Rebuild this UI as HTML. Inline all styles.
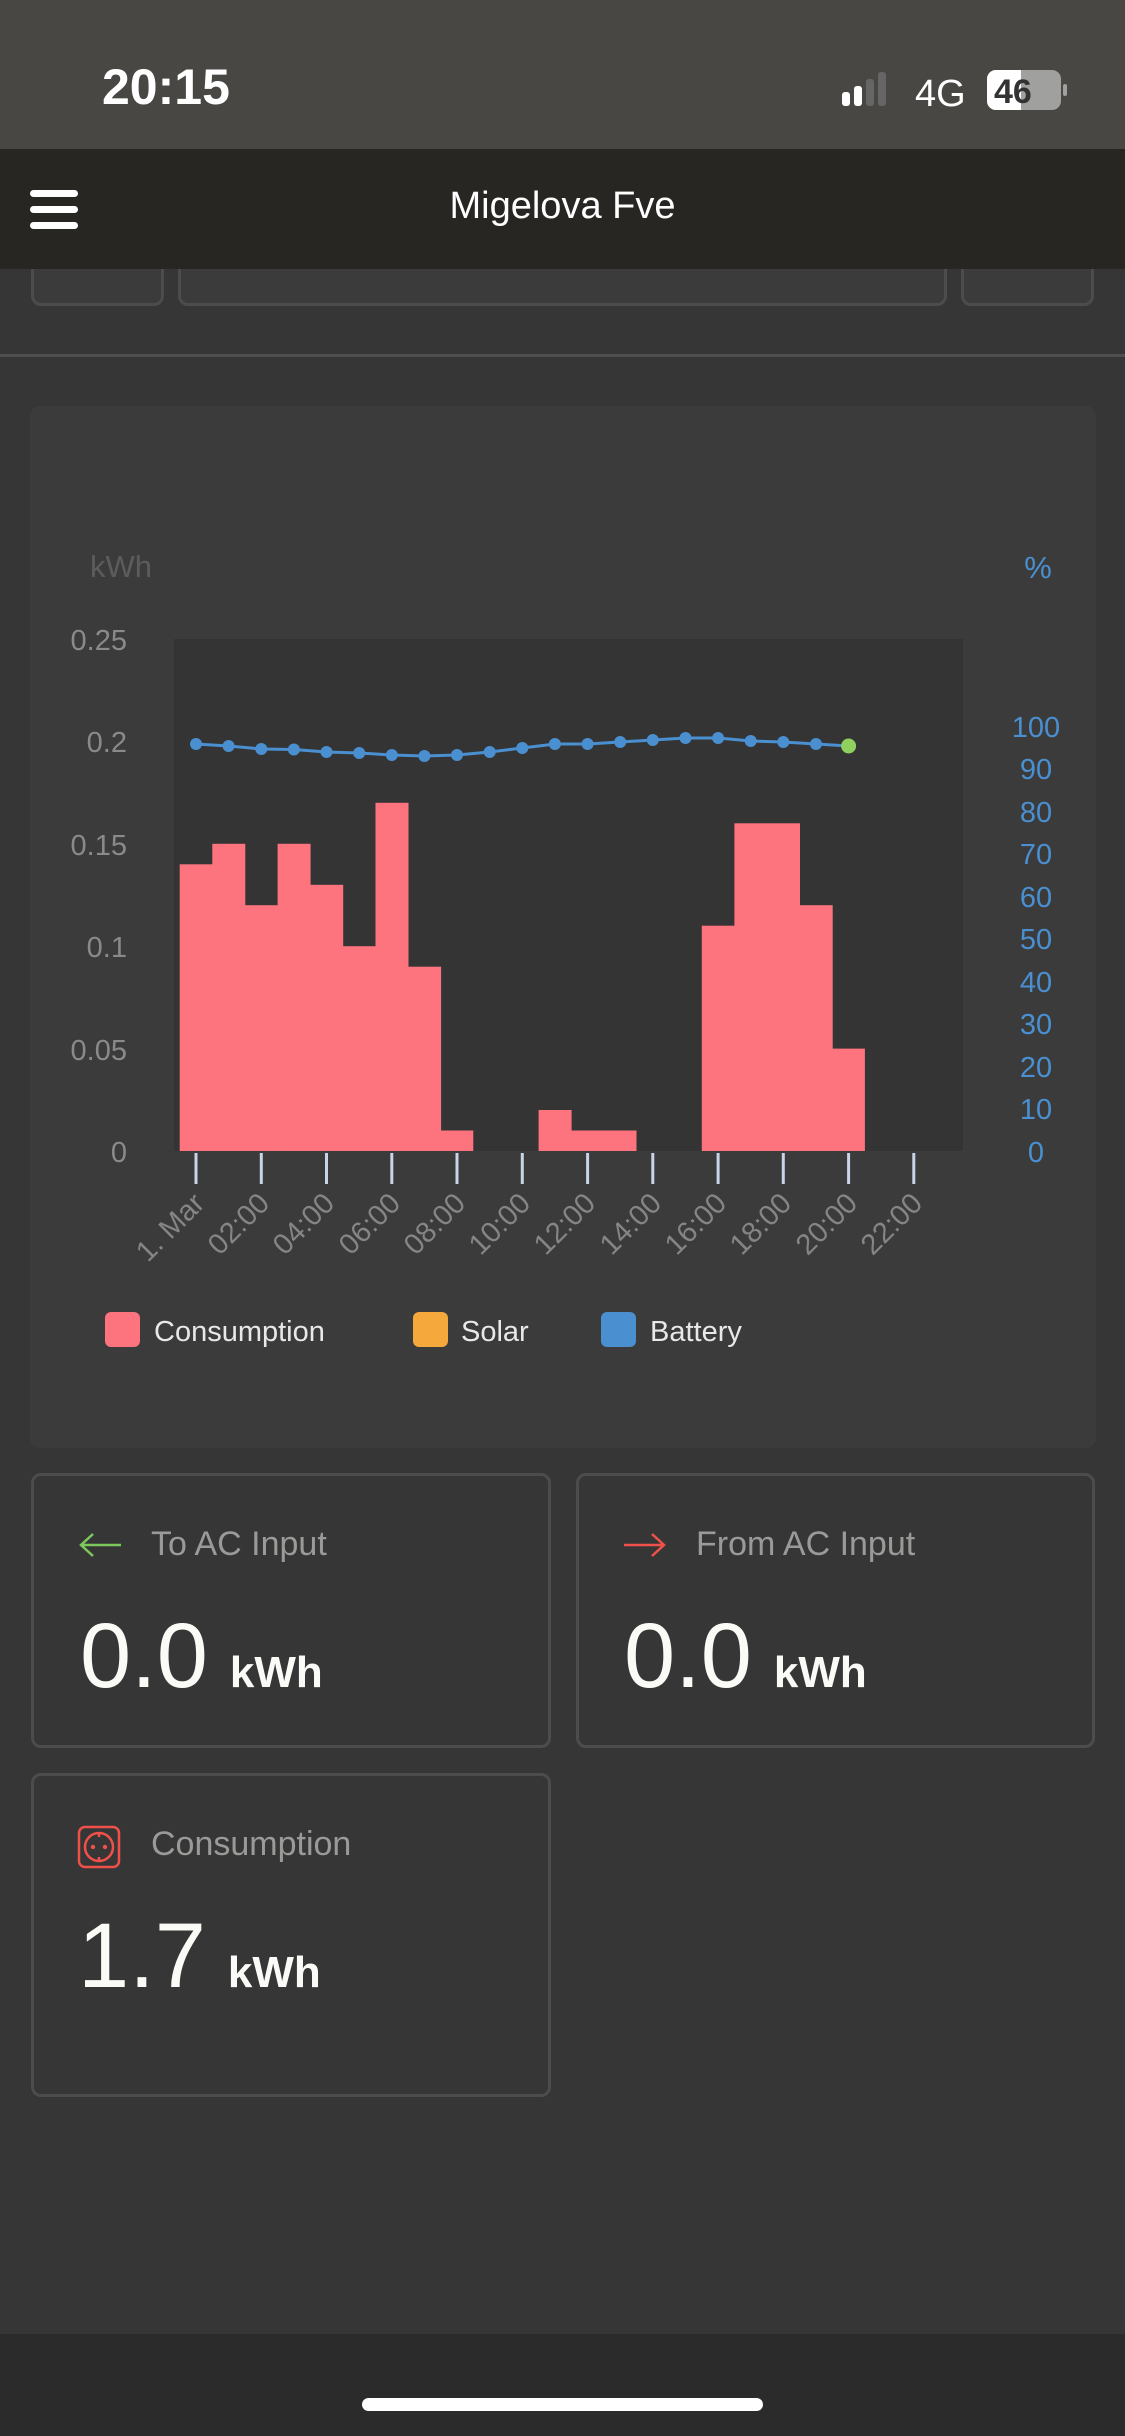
<!DOCTYPE html>
<html><head><meta charset="utf-8"><style>
body{margin:0;width:1125px;height:2436px;background:#363636;font-family:"Liberation Sans",sans-serif;overflow:hidden;position:relative}
.abs{position:absolute}
.card{position:absolute;border:3px solid #4c4c4a;border-radius:10px;box-sizing:border-box;background:#363636}
.ttl{position:absolute;color:#9a9a98;font-size:34px}
.big{position:absolute;color:#fafaf6;font-size:92px;line-height:1}
.big span{font-size:44px;font-weight:bold;margin-left:22px}
</style></head><body>
<div class="abs" style="left:0;top:0;width:1125px;height:149px;background:#484743"></div>
<div class="abs" style="left:102px;top:58px;color:#fff;font-size:50px;font-weight:bold">20:15</div>
<svg class="abs" style="left:830px;top:70px" width="250" height="50">
<rect x="12" y="22" width="8" height="14" rx="3" fill="#fff"/><rect x="24" y="16" width="8" height="20" rx="3" fill="#fff"/>
<rect x="36" y="9" width="8" height="27" rx="3" fill="#666"/><rect x="48" y="2" width="8" height="34" rx="3" fill="#666"/>
<text x="85" y="36" fill="#fff" font-size="38" font-family="Liberation Sans">4G</text>
<rect x="157" y="0" width="74" height="40" rx="9" fill="#a0a09e"/><path d="M166 0h25v40h-25a9 9 0 0 1-9-9v-22a9 9 0 0 1 9-9z" fill="#fff"/>
<text x="164" y="33" fill="#333" font-size="34" font-weight="bold" font-family="Liberation Sans">46</text>
<rect x="233" y="14" width="4" height="12" rx="2" fill="#a0a09e"/></svg>
<div class="abs" style="left:0;top:149px;width:1125px;height:120px;background:#272623"></div>
<div class="abs" style="left:30px;top:190px;width:48px;height:7px;background:#fff;border-radius:4px;box-shadow:0 16px 0 #fff,0 32px 0 #fff"></div>
<div class="abs" style="left:0;top:185px;width:1125px;text-align:center;color:#fff;font-size:38px">Migelova Fve</div>
<div class="card" style="left:31px;top:255px;width:133px;height:51px;background:#3b3b3b"></div>
<div class="card" style="left:178px;top:255px;width:769px;height:51px;background:#3b3b3b"></div>
<div class="card" style="left:961px;top:255px;width:133px;height:51px;background:#3b3b3b"></div>
<div class="abs" style="left:0;top:149px;width:1125px;height:120px;background:#272623;z-index:2"></div>
<div class="abs" style="left:30px;top:190px;width:48px;height:7px;background:#fff;border-radius:4px;box-shadow:0 16px 0 #fff,0 32px 0 #fff;z-index:3"></div>
<div class="abs" style="left:0;top:185px;width:1125px;text-align:center;color:#fff;font-size:38px;z-index:3">Migelova Fve</div>
<div class="abs" style="left:0;top:354px;width:1125px;height:3px;background:#4f4f4d"></div>
<div class="abs" style="left:30px;top:406px;width:1066px;height:1042px;background:#3b3b3b;border-radius:10px"></div>
<svg class="abs" style="left:0;top:0" width="1125" height="1500" font-family="Liberation Sans">
<rect x="174" y="639" width="789" height="512" fill="#343434"/>
<text x="121" y="577" fill="#5c5c5c" font-size="31" text-anchor="middle">kWh</text>
<text x="1038" y="578" fill="#4a8fd0" font-size="31" text-anchor="middle">%</text>
<g fill="#8a8a8a" font-size="29" text-anchor="end">
<text x="127" y="650">0.25</text><text x="127" y="752">0.2</text><text x="127" y="855">0.15</text><text x="127" y="957">0.1</text><text x="127" y="1060">0.05</text><text x="127" y="1162">0</text></g>
<g fill="#4a8fd0" font-size="29" text-anchor="middle">
<text x="1036" y="737">100</text><text x="1036" y="779">90</text><text x="1036" y="822">80</text><text x="1036" y="864">70</text><text x="1036" y="907">60</text><text x="1036" y="949">50</text><text x="1036" y="992">40</text><text x="1036" y="1034">30</text><text x="1036" y="1077">20</text><text x="1036" y="1119">10</text><text x="1036" y="1162">0</text></g>
<g fill="#fd737e">
<rect x="179.7" y="864.3" width="33" height="286.7"/><rect x="212.3" y="843.8" width="33" height="307.2"/><rect x="244.9" y="905.2" width="33" height="245.8"/><rect x="277.6" y="843.8" width="33" height="307.2"/><rect x="310.2" y="884.8" width="33" height="266.2"/><rect x="342.8" y="946.2" width="33" height="204.8"/><rect x="375.5" y="802.8" width="33" height="348.2"/><rect x="408.1" y="966.7" width="33" height="184.3"/><rect x="440.7" y="1130.5" width="32.6" height="20.5"/>
<rect x="538.6" y="1110" width="33" height="41"/><rect x="571.3" y="1130.5" width="65.2" height="20.5"/>
<rect x="701.8" y="925.7" width="33" height="225.3"/><rect x="734.4" y="823.3" width="65.6" height="327.7"/><rect x="799.7" y="905.2" width="33" height="245.8"/><rect x="832.3" y="1048.6" width="32.6" height="102.4"/></g>
<polyline fill="none" stroke="#4a8fd0" stroke-width="3" points="196,744 228.6,746 261.3,749 293.9,749.5 326.5,752 359.2,753 391.8,755 424.4,756 457,755 489.7,752 522.3,748 554.9,744 587.6,744 620.2,742 652.8,740 685.5,738 718.1,738 750.7,741 783.3,742 816,744 848.6,746"/>
<g fill="#4a8fd0"><circle cx="196" cy="744" r="6"/><circle cx="228.6" cy="746" r="6"/><circle cx="261.3" cy="749" r="6"/><circle cx="293.9" cy="749.5" r="6"/><circle cx="326.5" cy="752" r="6"/><circle cx="359.2" cy="753" r="6"/><circle cx="391.8" cy="755" r="6"/><circle cx="424.4" cy="756" r="6"/><circle cx="457" cy="755" r="6"/><circle cx="489.7" cy="752" r="6"/><circle cx="522.3" cy="748" r="6"/><circle cx="554.9" cy="744" r="6"/><circle cx="587.6" cy="744" r="6"/><circle cx="620.2" cy="742" r="6"/><circle cx="652.8" cy="740" r="6"/><circle cx="685.5" cy="738" r="6"/><circle cx="718.1" cy="738" r="6"/><circle cx="750.7" cy="741" r="6"/><circle cx="783.3" cy="742" r="6"/><circle cx="816" cy="744" r="6"/></g>
<circle cx="848.6" cy="746" r="7.5" fill="#8fd05e"/>
<g stroke="#c8d4e8" stroke-width="3">
<line x1="196" y1="1153" x2="196" y2="1184"/><line x1="261.3" y1="1153" x2="261.3" y2="1184"/><line x1="326.5" y1="1153" x2="326.5" y2="1184"/><line x1="391.8" y1="1153" x2="391.8" y2="1184"/><line x1="457" y1="1153" x2="457" y2="1184"/><line x1="522.3" y1="1153" x2="522.3" y2="1184"/><line x1="587.6" y1="1153" x2="587.6" y2="1184"/><line x1="652.8" y1="1153" x2="652.8" y2="1184"/><line x1="718.1" y1="1153" x2="718.1" y2="1184"/><line x1="783.3" y1="1153" x2="783.3" y2="1184"/><line x1="848.6" y1="1153" x2="848.6" y2="1184"/><line x1="913.8" y1="1153" x2="913.8" y2="1184"/></g>
<g fill="#858585" font-size="29" text-anchor="end">
<text transform="translate(206,1205) rotate(-45)">1. Mar</text>
<text transform="translate(271,1205) rotate(-45)">02:00</text>
<text transform="translate(336,1205) rotate(-45)">04:00</text>
<text transform="translate(402,1205) rotate(-45)">06:00</text>
<text transform="translate(467,1205) rotate(-45)">08:00</text>
<text transform="translate(532,1205) rotate(-45)">10:00</text>
<text transform="translate(597,1205) rotate(-45)">12:00</text>
<text transform="translate(663,1205) rotate(-45)">14:00</text>
<text transform="translate(728,1205) rotate(-45)">16:00</text>
<text transform="translate(793,1205) rotate(-45)">18:00</text>
<text transform="translate(859,1205) rotate(-45)">20:00</text>
<text transform="translate(924,1205) rotate(-45)">22:00</text></g>
<rect x="105" y="1312" width="35" height="35" rx="6" fill="#fd737e"/>
<text x="154" y="1341" fill="#e8e8e8" font-size="29">Consumption</text>
<rect x="413" y="1312" width="35" height="35" rx="6" fill="#f5a83c"/>
<text x="461" y="1341" fill="#e8e8e8" font-size="29">Solar</text>
<rect x="601" y="1312" width="35" height="35" rx="6" fill="#4a8fd0"/>
<text x="650" y="1341" fill="#e8e8e8" font-size="29">Battery</text>
</svg>
<div class="card" style="left:31px;top:1473px;width:520px;height:275px"></div>
<div class="card" style="left:576px;top:1473px;width:519px;height:275px"></div>
<div class="card" style="left:31px;top:1773px;width:520px;height:324px"></div>
<svg class="abs" style="left:78px;top:1530px" width="45" height="30"><path d="M43 15H3M15 4L3 15l12 11" fill="none" stroke="#7cc85a" stroke-width="2.5"/></svg>
<div class="ttl" style="left:151px;top:1525px">To AC Input</div>
<div class="big" style="left:80px;top:1610px">0.0<span>kWh</span></div>
<svg class="abs" style="left:622px;top:1530px" width="45" height="30"><path d="M2 15h40M30 4l12 11-12 11" fill="none" stroke="#f0504a" stroke-width="2.5"/></svg>
<div class="ttl" style="left:696px;top:1525px">From AC Input</div>
<div class="big" style="left:624px;top:1610px">0.0<span>kWh</span></div>
<svg class="abs" style="left:77px;top:1825px" width="45" height="45"><rect x="2" y="2" width="40" height="40" rx="6" fill="none" stroke="#f0504a" stroke-width="2.5"/><circle cx="22" cy="22" r="14" fill="none" stroke="#f0504a" stroke-width="2.5"/><circle cx="16" cy="22" r="2.2" fill="#f0504a"/><circle cx="28" cy="22" r="2.2" fill="#f0504a"/><path d="M22 8v4M22 32v4" stroke="#f0504a" stroke-width="2.5"/></svg>
<div class="ttl" style="left:151px;top:1825px">Consumption</div>
<div class="big" style="left:78px;top:1910px">1.7<span>kWh</span></div>
<div class="abs" style="left:0;top:2334px;width:1125px;height:102px;background:#2b2b2b"></div>
<div class="abs" style="left:362px;top:2398px;width:401px;height:13px;background:#fff;border-radius:7px"></div>
</body></html>
